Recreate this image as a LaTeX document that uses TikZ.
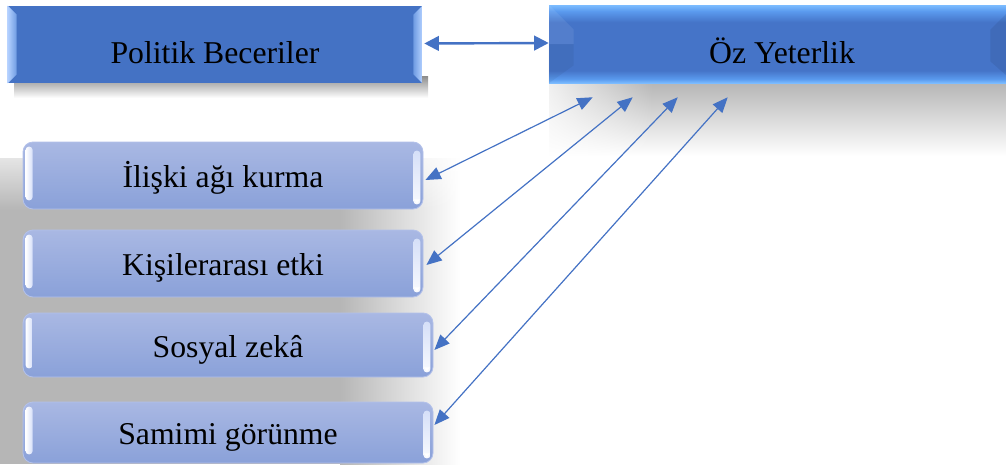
\documentclass[tikz,border=0pt]{standalone}
\usepackage{fontspec}
\setmainfont{Liberation Serif}
\usetikzlibrary{arrows.meta,calc,fadings}

\definecolor{arrowblue}{HTML}{4472C4}
\definecolor{pbmain}{HTML}{4472C4}
\definecolor{pbbevelA}{HTML}{B3D0FF}
\definecolor{pbbevelB}{HTML}{6E9BE2}
\definecolor{ozmain}{HTML}{4574C8}
\definecolor{ozlight}{HTML}{7CBCFF}
\definecolor{ozmid}{HTML}{5A9AEE}
\definecolor{smtop}{HTML}{A9B8E3}
\definecolor{smbot}{HTML}{8AA1D9}
\definecolor{smedge}{HTML}{B3C1EA}
\definecolor{smhl}{HTML}{D5DFF8}
\definecolor{shadowgray}{HTML}{B6B6B6}

\pgfdeclareverticalshading{ozshade}{100bp}{color(0bp)=(ozlight); color(25bp)=(ozlight); color(27.5bp)=(ozmid); color(33bp)=(ozmain); color(64bp)=(ozmain); color(71bp)=(ozmid); color(75bp)=(ozlight); color(100bp)=(ozlight)}

\tikzfading[name=fadedown, top color=transparent!0, bottom color=transparent!100]
\tikzfading[name=faderight, left color=transparent!0, right color=transparent!100]

\tikzset{
  boxtext/.style={font=\fontsize{23.8pt}{28pt}\selectfont, text=black, inner sep=0pt},
  pbbox/.style={boxtext, fill=pbmain, minimum width=310.5pt, minimum height=57.75pt, text height=28.5pt, text depth=0pt},
  ozbox/.style={boxtext, shading=ozshade, minimum width=349.5pt, minimum height=58.5pt, text height=28.5pt, text depth=0pt},
  smallbox/.style={boxtext, rounded corners=7.5pt, top color=smtop, bottom color=smbot, draw=smedge, line width=0.6pt, text height=18pt, text depth=0pt},
  conn/.style={draw=arrowblue, line width=0.9pt, {Triangle[length=11.5pt,width=9.5pt]}-{Triangle[length=11.5pt,width=9.5pt]}},
  bigconn/.style={draw=arrowblue, line width=1.8pt, {Triangle[length=11pt,width=11pt]}-{Triangle[length=11pt,width=11pt]}},
  hlleft/.style={left color=white, right color=smhl, rounded corners=2.5pt},
  hlright/.style={top color=smhl, bottom color=white!85!smhl, rounded corners=2.5pt},
}

\begin{document}
\begin{tikzpicture}[x=0.75pt, y=-0.75pt]
\useasboundingbox (0,0) rectangle (1006,464);
\clip (0,0) rectangle (1006,464);

% --- shadows ---
\fill[shadowgray] (0,158) rectangle (365,464);
\shade[left color=shadowgray, right color=white] (340,158) rectangle (460,464);
\fill[white, path fading=fadedown] (0,130) rectangle (470,210);

\shade[top color=black!36, bottom color=white] (549,64) rectangle (1015,156);
\fill[white, path fading=faderight] (522,83) rectangle (653,156);

\shade[top color=black!45, bottom color=white] (14,76) rectangle (428,98);

% --- top boxes ---
\node[pbbox] (pb) at (215,44.5) {Politik Beceriler};
\shade[left color=pbbevelA, right color=pbbevelB] (pb.north west) -- ++(9,9) -- ($(pb.south west)+(9,-9)$) -- (pb.south west) -- cycle;
\shade[left color=pbbevelB, right color=pbbevelA] (pb.north east) -- ++(-9,9) -- ($(pb.south east)+(-9,-9)$) -- (pb.south east) -- cycle;

\node[ozbox] (oz) at (782,44) {Öz Yeterlik};
\fill[white, opacity=0.08] (oz.north west) -- ++(25,25) -- ($(oz.west)+(25,0)$) -- (oz.west) -- cycle;
\fill[black, opacity=0.05] (oz.west) -- ($(oz.west)+(25,0)$) -- ($(oz.south west)+(25,-18)$) -- (oz.south west) -- cycle;
\fill[black, opacity=0.07] (oz.north east) -- ++(-25,25) -- ($(oz.south east)+(-25,-22)$) -- (oz.south east) -- cycle;

% --- small boxes ---
\node[smallbox, minimum width=300pt, minimum height=50.25pt] (b1) at (223,175.5) {İlişki ağı kurma};
\node[smallbox, minimum width=300pt, minimum height=50.25pt] (b2) at (223,263.5) {Kişilerarası etki};
\node[smallbox, minimum width=307.5pt, minimum height=48pt] (b3) at (228,345) {Sosyal zekâ};
\node[smallbox, minimum width=307.5pt, minimum height=45.75pt] (b4) at (228,432.5) {Samimi görünme};

\foreach \b in {b1,b2,b3,b4}{
  \shade[hlleft] ($(\b.north west)+(3,5)$) rectangle ($(\b.south west)+(10,-9)$);
  \shade[hlright] ($(\b.north east)+(-10,9)$) rectangle ($(\b.south east)+(-3,-5)$);
  \fill[white] ($(\b.south east)+(-9.5,-10)$) -- ($(\b.south east)+(-3.5,-10)$) -- ($(\b.south east)+(-6.5,-6)$) -- cycle;
}

% --- connectors ---
\draw[bigconn] ($(pb.east)+(2,-1)$) -- ($(oz.west)+(0,-1)$);

\coordinate (t1) at ($(oz.south west)+(44,14)$);
\coordinate (t2) at ($(oz.south west)+(84,14)$);
\coordinate (t3) at ($(oz.south west)+(129,14)$);
\coordinate (t4) at ($(oz.south west)+(179,14)$);

\draw[conn] ($(b1.east)+(2,4.5)$) -- (t1);
\draw[conn] ($(b2.east)+(3,1.5)$) -- (t2);
\draw[conn] ($(b3.east)+(1,5)$) -- (t3);
\draw[conn] ($(b4.east)+(1,-7.5)$) -- (t4);
\end{tikzpicture}
\end{document}
